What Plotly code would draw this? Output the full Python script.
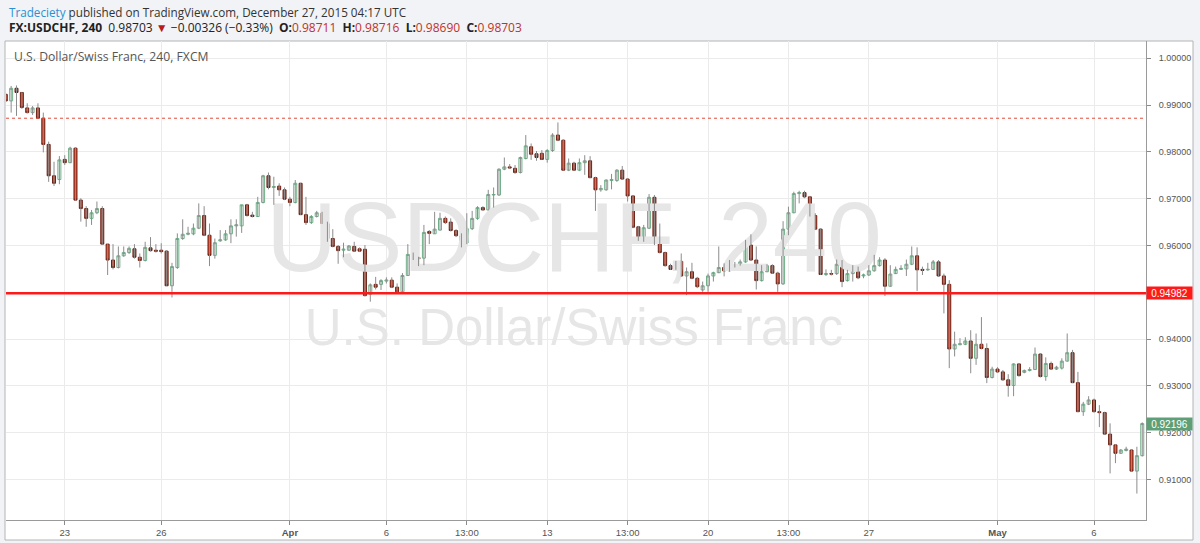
import numpy as np
import plotly.graph_objects as go

# ---- data (USD/CHF, 4h candles) ----
opens = [0.9923, 0.9909, 0.9936, 0.9927, 0.9894, 0.9884, 0.9894, 0.9872, 0.9816, 0.9749,
         0.9741, 0.9784, 0.9777, 0.9808, 0.9697, 0.9679, 0.9658, 0.9670, 0.9679, 0.9603,
         0.9569, 0.9553, 0.9578, 0.9585, 0.9593, 0.9575, 0.9568, 0.9595, 0.9590, 0.9590,
         0.9588, 0.9514, 0.9553, 0.9615, 0.9624, 0.9625, 0.9637, 0.9664, 0.9622, 0.9579,
         0.9610, 0.9612, 0.9625, 0.9642, 0.9642, 0.9687, 0.9665, 0.9662, 0.9692, 0.9749,
         0.9724, 0.9727, 0.9719, 0.9699, 0.9692, 0.9733, 0.9666, 0.9649, 0.9662, 0.9669,
         0.9647, 0.9615, 0.9598, 0.9590, 0.9590, 0.9598, 0.9593, 0.9592, 0.9496, 0.9517,
         0.9517, 0.9524, 0.9526, 0.9511, 0.9501, 0.9536, 0.9581, 0.9574, 0.9573, 0.9630,
         0.9625, 0.9633, 0.9658, 0.9650, 0.9632, 0.9621, 0.9606, 0.9636, 0.9658, 0.9681,
         0.9676, 0.9708, 0.9708, 0.9763, 0.9768, 0.9765, 0.9756, 0.9786, 0.9811, 0.9796,
         0.9797, 0.9784, 0.9803, 0.9836, 0.9825, 0.9761, 0.9776, 0.9761, 0.9777, 0.9781,
         0.9745, 0.9719, 0.9719, 0.9739, 0.9739, 0.9761, 0.9742, 0.9706, 0.9640, 0.9612,
         0.9637, 0.9703, 0.9613, 0.9585, 0.9557, 0.9549, 0.9566, 0.9535, 0.9544, 0.9530,
         0.9505, 0.9514, 0.9535, 0.9542, 0.9553, 0.9546, 0.9556, 0.9558, 0.9565, 0.9601,
         0.9569, 0.9525, 0.9544, 0.9557, 0.9541, 0.9518, 0.9635, 0.9670, 0.9711, 0.9713,
         0.9704, 0.9664, 0.9635, 0.9538, 0.9540, 0.9540, 0.9560, 0.9525, 0.9540, 0.9553,
         0.9535, 0.9537, 0.9546, 0.9557, 0.9569, 0.9513, 0.9540, 0.9549, 0.9550, 0.9560,
         0.9578, 0.9549, 0.9548, 0.9549, 0.9565, 0.9535, 0.9517, 0.9379, 0.9388, 0.9389,
         0.9396, 0.9359, 0.9389, 0.9380, 0.9318, 0.9336, 0.9330, 0.9313, 0.9301, 0.9347,
         0.9329, 0.9333, 0.9335, 0.9368, 0.9320, 0.9348, 0.9336, 0.9338, 0.9353, 0.9371,
         0.9307, 0.9245, 0.9261, 0.9270, 0.9245, 0.9243, 0.9197, 0.9174, 0.9156, 0.9162,
         0.9163, 0.9118, 0.9151]
highs = [0.9925, 0.9941, 0.9942, 0.9928, 0.9904, 0.9898, 0.9904, 0.9884, 0.9822, 0.9779,
         0.9791, 0.9793, 0.9811, 0.9810, 0.9701, 0.9684, 0.9676, 0.9694, 0.9684, 0.9603,
         0.9603, 0.9598, 0.9598, 0.9598, 0.9603, 0.9583, 0.9608, 0.9618, 0.9603, 0.9605,
         0.9590, 0.9563, 0.9626, 0.9656, 0.9640, 0.9647, 0.9690, 0.9684, 0.9647, 0.9615,
         0.9633, 0.9633, 0.9656, 0.9656, 0.9687, 0.9689, 0.9672, 0.9704, 0.9751, 0.9756,
         0.9747, 0.9733, 0.9724, 0.9704, 0.9740, 0.9734, 0.9704, 0.9665, 0.9674, 0.9672,
         0.9651, 0.9635, 0.9601, 0.9606, 0.9601, 0.9608, 0.9596, 0.9601, 0.9519, 0.9533,
         0.9528, 0.9532, 0.9532, 0.9519, 0.9541, 0.9603, 0.9585, 0.9576, 0.9644, 0.9633,
         0.9672, 0.9670, 0.9662, 0.9658, 0.9635, 0.9626, 0.9669, 0.9674, 0.9684, 0.9684,
         0.9719, 0.9724, 0.9765, 0.9788, 0.9774, 0.9772, 0.9790, 0.9836, 0.9818, 0.9802,
         0.9804, 0.9806, 0.9840, 0.9863, 0.9827, 0.9786, 0.9779, 0.9786, 0.9793, 0.9791,
         0.9747, 0.9729, 0.9741, 0.9753, 0.9763, 0.9770, 0.9744, 0.9708, 0.9642, 0.9644,
         0.9710, 0.9708, 0.9647, 0.9587, 0.9561, 0.9567, 0.9583, 0.9553, 0.9563, 0.9533,
         0.9523, 0.9540, 0.9544, 0.9598, 0.9562, 0.9569, 0.9565, 0.9570, 0.9612, 0.9624,
         0.9598, 0.9558, 0.9560, 0.9560, 0.9544, 0.9652, 0.9683, 0.9715, 0.9717, 0.9717,
         0.9706, 0.9669, 0.9637, 0.9549, 0.9548, 0.9570, 0.9569, 0.9548, 0.9558, 0.9555,
         0.9540, 0.9558, 0.9580, 0.9575, 0.9573, 0.9558, 0.9555, 0.9558, 0.9570, 0.9598,
         0.9596, 0.9555, 0.9563, 0.9569, 0.9569, 0.9540, 0.9526, 0.9416, 0.9402, 0.9404,
         0.9419, 0.9412, 0.9447, 0.9391, 0.9341, 0.9340, 0.9334, 0.9325, 0.9348, 0.9348,
         0.9335, 0.9340, 0.9382, 0.9370, 0.9361, 0.9352, 0.9343, 0.9359, 0.9412, 0.9377,
         0.9330, 0.9266, 0.9278, 0.9273, 0.9259, 0.9245, 0.9220, 0.9175, 0.9165, 0.9170,
         0.9165, 0.9170, 0.9222]
lows = [0.9907, 0.9884, 0.9877, 0.9892, 0.9882, 0.9879, 0.9871, 0.9799, 0.9736, 0.9727,
        0.9731, 0.9772, 0.9776, 0.9696, 0.9651, 0.9640, 0.9644, 0.9667, 0.9601, 0.9537,
        0.9549, 0.9551, 0.9576, 0.9582, 0.9572, 0.9553, 0.9566, 0.9587, 0.9585, 0.9583,
        0.9514, 0.9489, 0.9550, 0.9612, 0.9622, 0.9622, 0.9635, 0.9620, 0.9556, 0.9572,
        0.9608, 0.9610, 0.9605, 0.9619, 0.9627, 0.9662, 0.9660, 0.9661, 0.9690, 0.9720,
        0.9687, 0.9706, 0.9697, 0.9684, 0.9690, 0.9665, 0.9644, 0.9646, 0.9660, 0.9646,
        0.9608, 0.9596, 0.9561, 0.9575, 0.9589, 0.9586, 0.9586, 0.9491, 0.9480, 0.9506,
        0.9505, 0.9519, 0.9509, 0.9498, 0.9499, 0.9535, 0.9569, 0.9556, 0.9558, 0.9603,
        0.9625, 0.9632, 0.9646, 0.9630, 0.9618, 0.9596, 0.9603, 0.9633, 0.9655, 0.9675,
        0.9675, 0.9681, 0.9706, 0.9761, 0.9764, 0.9753, 0.9754, 0.9784, 0.9783, 0.9781,
        0.9783, 0.9777, 0.9800, 0.9823, 0.9760, 0.9759, 0.9760, 0.9759, 0.9751, 0.9744,
        0.9674, 0.9715, 0.9717, 0.9720, 0.9736, 0.9740, 0.9694, 0.9637, 0.9610, 0.9608,
        0.9635, 0.9601, 0.9583, 0.9555, 0.9548, 0.9548, 0.9533, 0.9494, 0.9528, 0.9509,
        0.9501, 0.9501, 0.9523, 0.9541, 0.9534, 0.9544, 0.9553, 0.9557, 0.9563, 0.9568,
        0.9506, 0.9523, 0.9543, 0.9539, 0.9501, 0.9516, 0.9622, 0.9669, 0.9690, 0.9701,
        0.9662, 0.9633, 0.9537, 0.9535, 0.9536, 0.9537, 0.9511, 0.9523, 0.9523, 0.9528,
        0.9530, 0.9535, 0.9544, 0.9555, 0.9492, 0.9512, 0.9539, 0.9548, 0.9535, 0.9558,
        0.9503, 0.9537, 0.9546, 0.9548, 0.9533, 0.9455, 0.9338, 0.9363, 0.9387, 0.9387,
        0.9327, 0.9345, 0.9378, 0.9306, 0.9316, 0.9328, 0.9311, 0.9277, 0.9278, 0.9320,
        0.9327, 0.9331, 0.9334, 0.9318, 0.9311, 0.9334, 0.9334, 0.9335, 0.9352, 0.9306,
        0.9244, 0.9236, 0.9259, 0.9243, 0.9212, 0.9195, 0.9113, 0.9135, 0.9155, 0.9160,
        0.9117, 0.9070, 0.9149]
closes = [0.9909, 0.9936, 0.9927, 0.9895, 0.9884, 0.9894, 0.9872, 0.9816, 0.9749, 0.9733,
          0.9783, 0.9777, 0.9808, 0.9697, 0.9679, 0.9658, 0.9670, 0.9679, 0.9603, 0.9569,
          0.9553, 0.9578, 0.9585, 0.9594, 0.9575, 0.9568, 0.9596, 0.9589, 0.9588, 0.9587,
          0.9514, 0.9555, 0.9615, 0.9624, 0.9626, 0.9637, 0.9664, 0.9622, 0.9579, 0.9606,
          0.9612, 0.9625, 0.9642, 0.9644, 0.9687, 0.9664, 0.9662, 0.9692, 0.9749, 0.9724,
          0.9726, 0.9719, 0.9699, 0.9692, 0.9733, 0.9666, 0.9649, 0.9662, 0.9670, 0.9647,
          0.9615, 0.9598, 0.9589, 0.9592, 0.9599, 0.9588, 0.9588, 0.9493, 0.9516, 0.9511,
          0.9525, 0.9526, 0.9511, 0.9501, 0.9536, 0.9581, 0.9573, 0.9572, 0.9628, 0.9626,
          0.9635, 0.9658, 0.9649, 0.9632, 0.9621, 0.9606, 0.9636, 0.9658, 0.9681, 0.9676,
          0.9709, 0.9709, 0.9763, 0.9768, 0.9766, 0.9756, 0.9788, 0.9813, 0.9795, 0.9788,
          0.9784, 0.9803, 0.9836, 0.9825, 0.9761, 0.9776, 0.9761, 0.9777, 0.9781, 0.9745,
          0.9719, 0.9722, 0.9740, 0.9741, 0.9761, 0.9742, 0.9706, 0.9639, 0.9612, 0.9638,
          0.9703, 0.9613, 0.9585, 0.9557, 0.9549, 0.9566, 0.9535, 0.9544, 0.9530, 0.9512,
          0.9514, 0.9535, 0.9542, 0.9553, 0.9546, 0.9557, 0.9558, 0.9565, 0.9601, 0.9569,
          0.9525, 0.9544, 0.9557, 0.9541, 0.9518, 0.9635, 0.9670, 0.9711, 0.9713, 0.9704,
          0.9664, 0.9635, 0.9538, 0.9540, 0.9539, 0.9560, 0.9523, 0.9540, 0.9553, 0.9531,
          0.9537, 0.9546, 0.9557, 0.9569, 0.9513, 0.9539, 0.9549, 0.9551, 0.9560, 0.9578,
          0.9548, 0.9547, 0.9549, 0.9565, 0.9535, 0.9517, 0.9379, 0.9389, 0.9390, 0.9396,
          0.9359, 0.9389, 0.9380, 0.9318, 0.9336, 0.9330, 0.9313, 0.9301, 0.9347, 0.9322,
          0.9333, 0.9335, 0.9368, 0.9320, 0.9348, 0.9336, 0.9340, 0.9353, 0.9371, 0.9307,
          0.9245, 0.9261, 0.9270, 0.9245, 0.9243, 0.9197, 0.9174, 0.9156, 0.9163, 0.9165,
          0.9118, 0.9151, 0.92196]

tick_index = [11, 29, 53, 71, 86, 101, 116, 131, 146, 161, 185, 203]
tick_labels = ["23", "26", "<b>Apr</b>", "6", "13:00", "13", "13:00", "20", "13:00", "27", "<b>May</b>", "6"]
price_ticks = [0.91, 0.92, 0.93, 0.94, 0.95, 0.96, 0.97, 0.98, 0.99, 1.00]
support_level = 0.94982
dotted_level = 0.9872

# ---- geometry helpers (pixel -> paper) ----
W, H = 1200, 543
ML, MR, MT, MB = 6, 54, 41, 23
PW, PH = W - ML - MR, H - MT - MB


def px(xp):
    return (xp - ML) / PW


def py(yp):
    return (H - MB - yp) / PH


o = np.array(opens)
h = np.array(highs)
l = np.array(lows)
c = np.array(closes)
x = np.arange(len(o))
body_hi = np.maximum(o, c)
body_lo = np.minimum(o, c)

wx, wy = [], []
for i in range(len(o)):
    wx += [int(x[i]), int(x[i]), None]
    wy += [float(min(l[i], body_lo[i])), float(max(h[i], body_hi[i])), None]

fig = go.Figure()

# watermark (behind candles)
fig.add_trace(go.Scatter(x=[106.0], y=[0.9597], mode="text", text=["USDCHF, 240"],
                         textposition="middle center",
                         textfont=dict(size=98, color="#e6e6e6", family="Liberation Sans"),
                         hoverinfo="skip", showlegend=False))
fig.add_trace(go.Scatter(x=[106.0], y=[0.9415], mode="text", text=["U.S. Dollar/Swiss Franc"],
                         textposition="middle center",
                         textfont=dict(size=51, color="#e6e6e6", family="Liberation Sans"),
                         hoverinfo="skip", showlegend=False))

# wicks
fig.add_trace(go.Scatter(x=wx, y=wy, mode="lines", line=dict(color="#8c8c8c", width=1),
                         hoverinfo="skip", showlegend=False))

# bodies
fig.add_trace(go.Candlestick(
    x=x, open=o, high=body_hi, low=body_lo, close=c,
    increasing=dict(line=dict(color="#6fae88", width=1), fillcolor="#ffffff"),
    decreasing=dict(line=dict(color="#6b2216", width=1), fillcolor="#d2472f"),
    whiskerwidth=0, showlegend=False, hoverinfo="skip"))

shapes = [
    # outer chart frame
    dict(type="rect", xref="paper", yref="paper", x0=px(5), x1=px(1193), y0=py(540), y1=py(41),
         line=dict(color="#b4b4b4", width=1), fillcolor="#ffffff", layer="below"),
    # support line
    dict(type="line", xref="paper", yref="y", x0=0, x1=1, y0=support_level, y1=support_level,
         line=dict(color="#ff1a1a", width=2.5)),
    # dotted line
    dict(type="line", xref="paper", yref="y", x0=0, x1=1, y0=dotted_level, y1=dotted_level,
         line=dict(color="#e34b3a", width=1, dash="dot")),
]

annotations = [
    dict(xref="paper", yref="paper", x=px(7), y=py(11.5), xanchor="left", yanchor="middle",
         showarrow=False, align="left",
         text="<span style='color:#2b90d3'>Tradeciety</span> published on TradingView.com, December 27, 2015 04:17 UTC",
         font=dict(family="Open Sans", size=11.7, color="#333333")),
    dict(xref="paper", yref="paper", x=px(7), y=py(27.5), xanchor="left", yanchor="middle",
         showarrow=False, align="left",
         text=("<b>FX:USDCHF, 240</b>  0.98703 <span style='color:#b71c1c'>▼</span> −0.00326 (−0.33%)  "
               "<b>O:</b><span style='color:#c0322a'>0.98711</span>  "
               "<b>H:</b><span style='color:#c0322a'>0.98716</span>  "
               "<b>L:</b><span style='color:#c0322a'>0.98690</span>  "
               "<b>C:</b><span style='color:#c0322a'>0.98703</span>"),
         font=dict(family="Open Sans", size=12, color="#222222")),
    dict(xref="paper", yref="paper", x=px(12), y=py(57), xanchor="left", yanchor="middle",
         showarrow=False, align="left", text="U.S. Dollar/Swiss Franc, 240, FXCM",
         font=dict(family="Open Sans", size=12.2, color="#555555")),
    dict(xref="paper", yref="y", x=1.0, y=support_level, xanchor="left", yanchor="middle",
         showarrow=False, text=f"{support_level:.5f}", bgcolor="#ff1a1a", width=45, height=12,
         borderpad=0, font=dict(family="Liberation Sans", size=10, color="#ffffff")),
    dict(xref="paper", yref="y", x=1.0, y=closes[-1], xanchor="left", yanchor="middle",
         showarrow=False, text=f"{closes[-1]:.5f}", bgcolor="#5e9f78", width=45, height=12,
         borderpad=0, font=dict(family="Liberation Sans", size=10, color="#ffffff")),
]

# the 0.95 label sits under the support-level tag, as in the original
price_text = ["" if abs(v - 0.95) < 1e-9 else f"{v:.5f}" for v in price_ticks]

fig.update_layout(
    width=W, height=H,
    margin=dict(l=ML, r=MR, t=MT, b=MB, pad=0),
    paper_bgcolor="#f1f3f6", plot_bgcolor="#ffffff",
    showlegend=False, shapes=shapes, annotations=annotations,
    boxgap=0.2,
    xaxis=dict(range=[0.04, 212.7], tickmode="array", tickvals=tick_index, ticktext=tick_labels,
               showgrid=True, gridcolor="#ebebeb", gridwidth=1, zeroline=False,
               ticks="outside", ticklen=4, tickcolor="#8a8a8a",
               tickfont=dict(family="Liberation Sans", size=9.5, color="#555555"),
               showline=True, linecolor="#9a9a9a", linewidth=1,
               rangeslider=dict(visible=False), fixedrange=True),
    yaxis=dict(range=[0.90135, 1.0037], side="right", tickmode="array", tickvals=price_ticks,
               ticktext=price_text,
               showgrid=True, gridcolor="#ebebeb", gridwidth=1, zeroline=False,
               ticks="outside", ticklen=4, tickcolor="#8a8a8a", ticklabelstandoff=6,
               tickfont=dict(family="Liberation Sans", size=9, color="#555555"),
               showline=True, linecolor="#9a9a9a", linewidth=1, fixedrange=True),
)

fig.write_html("out.html", config={"displayModeBar": False},
               post_script="document.body.style.margin='0';document.body.style.overflow='hidden';")
